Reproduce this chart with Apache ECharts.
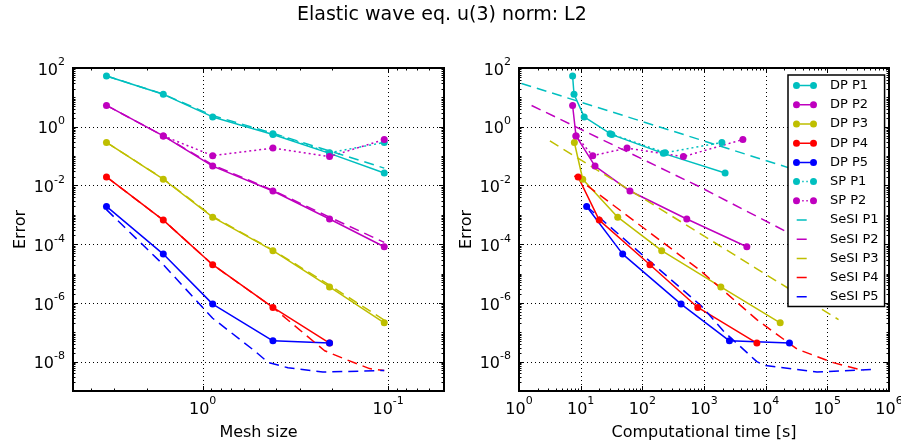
<!DOCTYPE html>
<html>
<head>
<meta charset="utf-8">
<title>Elastic wave eq. u(3) norm: L2</title>
<script src="https://cdn.jsdelivr.net/npm/echarts@6/dist/echarts.min.js"></script>
<style>
html, body { margin: 0; padding: 0; background: #fff; }
#chart { width: 901px; height: 446px; }
</style>
</head>
<body>
<div id="chart"></div>
<script>
// ---- left plot: error vs mesh size ----
var meshSize = [3.30, 1.63, 0.883, 0.418, 0.207, 0.105];
var dpP1Err = [53.6, 12.7, 2.16, 0.54, 0.124, 0.0266];
var dpP2Err = [5.3, 0.485, 0.0457, 0.00645, 7.2e-4, 8.2e-5];
var dpP3Err = [0.291, 0.0163, 8.3e-4, 6.0e-5, 3.5e-6, 2.1e-7];
var dpP4Err = [0.0195, 6.6e-4, 2.0e-5, 7.0e-7, 4.3e-8];
var dpP5Err = [1.93e-3, 4.6e-5, 9.1e-7, 5.1e-8, 4.3e-8];

var spP1Mesh = [0.418, 0.207, 0.105];
var spP1Err = [0.58, 0.13, 0.291];
var spP2Mesh = [1.63, 0.883, 0.418, 0.207, 0.105];
var spP2Err = [0.485, 0.1035, 0.1875, 0.096, 0.367];

var sesiP1Err = [53.6, 12.9, 2.4, 0.6, 0.15, 0.039];
var sesiP2Err = [5.3, 0.49, 0.05, 0.0068, 8.3e-4, 1.15e-4];
var sesiP3Err = [0.291, 0.0168, 8.8e-4, 6.3e-5, 4.0e-6, 2.6e-7];
var sesiP4Mesh = [3.30, 1.63, 0.883, 0.418, 0.22, 0.172, 0.126, 0.105];
var sesiP4Err = [0.0195, 6.6e-4, 2.0e-5, 7.0e-7, 2.35e-8, 1.24e-8, 5.8e-9, 5.0e-9];
var sesiP5Mesh = [3.30, 1.63, 0.883, 0.526, 0.445, 0.347, 0.225, 0.105];
var sesiP5Err = [1.5e-3, 2.0e-5, 3.0e-7, 2.35e-8, 9.5e-9, 6.2e-9, 4.4e-9, 5.0e-9];

// ---- right plot: error vs computational time ----
var dpP1Time = [7.4, 7.8, 11.4, 32, 219, 2200];
var dpP2Time = [7.4, 8.4, 17.1, 63, 526, 4950];
var dpP3Time = [7.9, 10.8, 39.9, 206, 1875, 17200];
var dpP4Time = [9.1, 20, 133, 793, 7200];
var dpP5Time = [12.5, 48, 425, 2585, 24300];
var spP1Time = [30, 235, 1950];
var spP2Time = [8.4, 15.7, 56.5, 463, 4270];

var sesiP1Time = [1.1, 864, 1.5e5];
var sesiP1ErrT = [29.8, 0.36, 0.0117];
var sesiP2Time = [1.6, 864, 2.07e4, 1.5e5];
var sesiP2ErrT = [5.3, 8.8e-3, 2.8e-4, 3.5e-5];
var sesiP3Time = [3.17, 864, 1.52e5];
var sesiP3ErrT = [0.33, 2.3e-4, 2.7e-7];
var sesiP4Time = [7.9, 864, 7190, 32100, 1.19e5, 3.87e5];
var sesiP4ErrT = [0.0211, 1.28e-5, 2.7e-7, 2.7e-8, 9.5e-9, 5.0e-9];
var sesiP5Time = [12.5, 921, 2065, 7190, 9800, 6.8e4, 5.3e5];
var sesiP5ErrT = [1.93e-3, 7.6e-7, 1.1e-7, 1.0e-8, 7.4e-9, 4.4e-9, 5.4e-9];

// ---- axis ticks (labelled) ----
var meshTicks = [1, 0.1];
var timeTicks = [1, 10, 100, 1e3, 1e4, 1e5, 1e6];
var errTicks = [1e2, 1, 1e-2, 1e-4, 1e-6, 1e-8];

var colors = { p1: '#00bfbf', p2: '#bf00bf', p3: '#bfbf00', p4: '#ff0000', p5: '#0000ff' };
var font = 'DejaVu Sans';

function pairs(xs, ys) {
    return xs.map(function (x, i) { return [x, ys[i]]; });
}

// minor ticks 2..9 per decade (plus unlabelled decades) inside (lo, hi)
function minorTicks(lo, hi, major) {
    var out = [];
    for (var d = Math.floor(Math.log10(lo)); d <= Math.ceil(Math.log10(hi)); d++) {
        for (var k = 1; k <= 9; k++) {
            var v = Number((k * Math.pow(10, d)).toPrecision(6));
            if (v > lo && v < hi && major.indexOf(v) < 0) out.push(v);
        }
    }
    return out;
}

var tickRich = {
    b: { fontSize: 16, fontFamily: font, lineHeight: 27, fill: '#000' },
    e: { fontSize: 11, fontFamily: font, lineHeight: 10, verticalAlign: 'top', fill: '#000' }
};

function expLabel(v) {
    return '{b|10}{e|' + Math.round(Math.log10(v)) + '}';
}

// frame decorations: grid lines, inside ticks on all sides, tick labels
function frameSeries(idx, xMajor, xMinor, yMajor, yMinor, xRef, yRef) {
    var data = [];
    xMajor.forEach(function (v) { data.push([v, yRef, 0]); });
    xMinor.forEach(function (v) { data.push([v, yRef, 1]); });
    yMajor.forEach(function (v) { data.push([xRef, v, 2]); });
    yMinor.forEach(function (v) { data.push([xRef, v, 3]); });
    return {
        type: 'custom',
        xAxisIndex: idx,
        yAxisIndex: idx,
        silent: true,
        clip: false,
        z: 1,
        encode: { x: 0, y: 1 },
        data: data,
        renderItem: function (params, api) {
            var cs = params.coordSys;
            var kind = api.value(2);
            var pt = api.coord([api.value(0), api.value(1)]);
            var left = cs.x, top = cs.y, right = cs.x + cs.width, bottom = cs.y + cs.height;
            var tick = { stroke: '#000', lineWidth: 1 };
            var dots = { stroke: '#000', lineWidth: 1, lineDash: [1, 3] };
            var out = [];
            var len = (kind === 0 || kind === 2) ? 5 : 2.5;
            if (kind < 2) {
                var x = Math.round(pt[0]) + 0.5;
                out.push({ type: 'line', shape: { x1: x, y1: bottom, x2: x, y2: bottom - len }, style: tick });
                out.push({ type: 'line', shape: { x1: x, y1: top, x2: x, y2: top + len }, style: tick });
                if (kind === 0) {
                    if (x > left + 1 && x < right - 1) {
                        out.push({ type: 'line', shape: { x1: x, y1: top, x2: x, y2: bottom }, style: dots });
                    }
                    out.push({ type: 'text', style: { text: expLabel(api.value(0)), rich: tickRich, x: pt[0], y: bottom + 5, align: 'center', verticalAlign: 'top' } });
                }
            } else {
                var y = Math.round(pt[1]) + 0.5;
                out.push({ type: 'line', shape: { x1: left, y1: y, x2: left + len, y2: y }, style: tick });
                out.push({ type: 'line', shape: { x1: right, y1: y, x2: right - len, y2: y }, style: tick });
                if (kind === 2) {
                    if (y > top + 1 && y < bottom - 1) {
                        out.push({ type: 'line', shape: { x1: left, y1: y, x2: right, y2: y }, style: dots });
                    }
                    out.push({ type: 'text', style: { text: expLabel(api.value(1)), rich: tickRich, x: left - 8, y: pt[1] + 2.5, align: 'right', verticalAlign: 'middle' } });
                }
            }
            return { type: 'group', children: out };
        }
    };
}

function dpLine(name, color, xs, ys, idx) {
    return {
        name: name, type: 'line', xAxisIndex: idx, yAxisIndex: idx,
        data: pairs(xs, ys), symbol: 'circle', symbolSize: 7,
        lineStyle: { color: color, width: 1.5 }, itemStyle: { color: color }, z: 3
    };
}
function spLine(name, color, xs, ys, idx) {
    return {
        name: name, type: 'line', xAxisIndex: idx, yAxisIndex: idx,
        data: pairs(xs, ys), symbol: 'circle', symbolSize: 7,
        lineStyle: { color: color, width: 1.5, type: [2, 3] }, itemStyle: { color: color }, z: 3
    };
}
function sesiLine(name, color, xs, ys, idx) {
    return {
        name: name, type: 'line', xAxisIndex: idx, yAxisIndex: idx,
        data: pairs(xs, ys), symbol: 'none',
        lineStyle: { color: color, width: 1.5, type: [10, 6] }, itemStyle: { color: color }, z: 3
    };
}

// legend icons: 32x7 box, tiny corner squares fix the bounding box
var corners = 'M0,0h0.01v0.01h-0.01z M32,7h-0.01v-0.01h0.01z ';
var dots2 = 'M0,3.5a3.5,3.5 0 1,0 7,0a3.5,3.5 0 1,0 -7,0z M17,3.5a3.5,3.5 0 1,0 7,0a3.5,3.5 0 1,0 -7,0z ';
var iconDP = 'path://' + corners + dots2 + 'M7,2.75h10v1.5h-10z';
var iconSP = 'path://' + corners + dots2 + 'M9.2,2.75h1.5v1.5h-1.5z M13.3,2.75h1.5v1.5h-1.5z';
var iconSeSI = 'path://' + corners + 'M3.7,2.75h10v1.5h-10z';

var legendNames = ['DP P1', 'DP P2', 'DP P3', 'DP P4', 'DP P5', 'SP P1', 'SP P2',
    'SeSI P1', 'SeSI P2', 'SeSI P3', 'SeSI P4', 'SeSI P5'];

function logAxis(idx, min, max, name, inverse) {
    return {
        type: 'log', logBase: 10, gridIndex: idx, min: min, max: max, inverse: !!inverse,
        name: name, nameLocation: 'middle',
        nameTextStyle: { fontSize: 16, fontFamily: font, color: '#000' },
        axisLine: { show: false }, axisTick: { show: false },
        axisLabel: { show: false }, splitLine: { show: false }
    };
}

var xAx0 = logAxis(0, 0.05, 5, 'Mesh size', true);
xAx0.nameGap = 34;
var xAx1 = logAxis(1, 1, 1e6, 'Computational time [s]');
xAx1.nameGap = 34;
var yAx0 = logAxis(0, 1e-9, 1e2, 'Error');
yAx0.nameGap = 44;
var yAx1 = logAxis(1, 1e-9, 1e2, 'Error');
yAx1.nameGap = 44;

var errMinor = minorTicks(1e-9, 1e2, errTicks);

var myChart = echarts.init(document.getElementById('chart'));
var option = {
    animation: false,
    backgroundColor: '#fff',
    title: {
        text: 'Elastic wave eq. u(3) norm: L2',
        left: 292, top: 1,
        textStyle: { fontSize: 19, fontWeight: 'normal', fontFamily: font, color: '#000' }
    },
    legend: {
        orient: 'vertical', left: 788, top: 75, z: 10,
        itemWidth: 32, itemHeight: 7, itemGap: 0,
        padding: [1, 6, 0, 5],
        backgroundColor: '#fff', borderColor: '#000', borderWidth: 1.5,
        selectedMode: false,
        textStyle: { fontSize: 13, fontFamily: font, color: '#000', lineHeight: 19.2 },
        data: legendNames.map(function (n) {
            var icon = n.indexOf('DP') === 0 ? iconDP : (n.indexOf('SP') === 0 ? iconSP : iconSeSI);
            return { name: n, icon: icon };
        })
    },
    grid: [
        { left: 73, top: 68, width: 371, height: 328, show: true, borderColor: '#000', borderWidth: 2, backgroundColor: 'transparent', z: 5 },
        { left: 519, top: 68, width: 370, height: 328, show: true, borderColor: '#000', borderWidth: 2, backgroundColor: 'transparent', z: 5 }
    ],
    xAxis: [xAx0, xAx1],
    yAxis: [yAx0, yAx1],
    series: [
        frameSeries(0, meshTicks, minorTicks(0.05, 5, meshTicks), errTicks, errMinor, 1, 1e-4),
        frameSeries(1, timeTicks, minorTicks(1, 1e6, timeTicks), errTicks, errMinor, 10, 1e-4),

        dpLine('DP P1', colors.p1, meshSize, dpP1Err, 0),
        dpLine('DP P2', colors.p2, meshSize, dpP2Err, 0),
        dpLine('DP P3', colors.p3, meshSize, dpP3Err, 0),
        dpLine('DP P4', colors.p4, meshSize.slice(0, 5), dpP4Err, 0),
        dpLine('DP P5', colors.p5, meshSize.slice(0, 5), dpP5Err, 0),
        spLine('SP P1', colors.p1, spP1Mesh, spP1Err, 0),
        spLine('SP P2', colors.p2, spP2Mesh, spP2Err, 0),
        sesiLine('SeSI P1', colors.p1, meshSize, sesiP1Err, 0),
        sesiLine('SeSI P2', colors.p2, meshSize, sesiP2Err, 0),
        sesiLine('SeSI P3', colors.p3, meshSize, sesiP3Err, 0),
        sesiLine('SeSI P4', colors.p4, sesiP4Mesh, sesiP4Err, 0),
        sesiLine('SeSI P5', colors.p5, sesiP5Mesh, sesiP5Err, 0),

        dpLine('DP P1', colors.p1, dpP1Time, dpP1Err, 1),
        dpLine('DP P2', colors.p2, dpP2Time, dpP2Err, 1),
        dpLine('DP P3', colors.p3, dpP3Time, dpP3Err, 1),
        dpLine('DP P4', colors.p4, dpP4Time, dpP4Err, 1),
        dpLine('DP P5', colors.p5, dpP5Time, dpP5Err, 1),
        spLine('SP P1', colors.p1, spP1Time, spP1Err, 1),
        spLine('SP P2', colors.p2, spP2Time, spP2Err, 1),
        sesiLine('SeSI P1', colors.p1, sesiP1Time, sesiP1ErrT, 1),
        sesiLine('SeSI P2', colors.p2, sesiP2Time, sesiP2ErrT, 1),
        sesiLine('SeSI P3', colors.p3, sesiP3Time, sesiP3ErrT, 1),
        sesiLine('SeSI P4', colors.p4, sesiP4Time, sesiP4ErrT, 1),
        sesiLine('SeSI P5', colors.p5, sesiP5Time, sesiP5ErrT, 1)
    ]
};
myChart.setOption(option);
</script>
</body>
</html>
